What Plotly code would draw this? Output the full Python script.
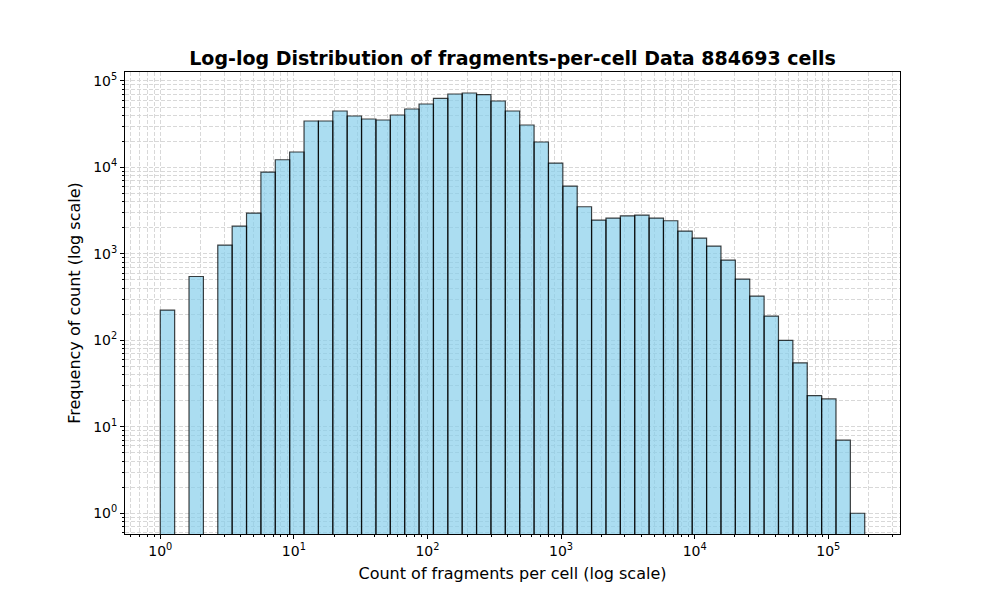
import numpy as np
import plotly.graph_objects as go

# Histogram of fragments per cell, 49 log-spaced bins from 1 to max count
n_cells = 884693
max_fragments = 187500
n_edges = 50
bin_counts = [
    224, 0, 548, 0, 1265, 2098, 2966, 8850, 12280, 15080,
    34440, 34440, 44970, 39350, 36330, 35360, 40400, 47400, 54200, 62900,
    70700, 72600, 69400, 58700, 44970, 30960, 19680, 11240, 6090, 3510,
    2462, 2596, 2760, 2812, 2596, 2417, 1836, 1524, 1231, 848,
    511, 325, 191, 100, 55, 23, 21, 7, 1,
]
x_tick_vals = [1, 10, 100, 1000, 10000, 100000]
x_tick_text = ["10<sup>%d</sup>" % i for i in range(6)]
y_tick_vals = [1, 10, 100, 1000, 10000, 100000]
y_tick_text = ["10<sup>%d</sup>" % i for i in range(6)]

bin_edges = np.logspace(0, np.log10(max_fragments), n_edges)

# every non-empty bin as a closed rectangle (bottom below the visible range)
xs, ys = [], []
for i, c in enumerate(bin_counts):
    if c <= 0:
        continue
    l, r = bin_edges[i], bin_edges[i + 1]
    xs += [l, l, r, r, l, None]
    ys += [0.01, c, c, 0.01, 0.01, None]

fig = go.Figure()
fig.add_trace(go.Scatter(
    x=xs, y=ys,
    mode="lines",
    fill="toself",
    fillcolor="rgba(135,206,235,0.7)",
    line=dict(color="rgba(0,0,0,0.75)", width=1.2),
    hoverinfo="skip",
    showlegend=False,
))

grid_col = "#d8d8d8"
axis_common = dict(
    type="log",
    showline=True, linecolor="black", linewidth=1, mirror=True,
    ticks="outside", ticklen=4, tickcolor="black",
    showgrid=True, gridcolor=grid_col, griddash="4px,2px", gridwidth=1,
    zeroline=False,
    tickfont=dict(family="DejaVu Sans", size=14, color="black"),
    minor=dict(dtick="D1", showgrid=True, gridcolor=grid_col, griddash="4px,2px",
               ticks="outside", ticklen=2, tickcolor="black"),
)

fig.update_xaxes(
    **axis_common,
    range=[-0.264, 5.537],
    tickvals=x_tick_vals, ticktext=x_tick_text,
    title=dict(text="Count of fragments per cell (log scale)",
               font=dict(family="DejaVu Sans", size=16, color="black"), standoff=10),
)
fig.update_yaxes(
    **axis_common,
    range=[-0.24, 5.104],
    tickvals=y_tick_vals, ticktext=y_tick_text,
    title=dict(text="Frequency of count (log scale)",
               font=dict(family="DejaVu Sans", size=16, color="black"), standoff=8),
)

fig.update_layout(
    width=1000, height=600,
    margin=dict(l=125, r=100, t=72, b=66),
    paper_bgcolor="white", plot_bgcolor="white",
    title=dict(
        text="<b>Log-log Distribution of fragments-per-cell Data %d cells</b>" % n_cells,
        font=dict(family="DejaVu Sans", size=19, color="black"),
        x=0.5, xanchor="center", xref="paper",
        y=0.903, yanchor="middle", yref="container",
    ),
)

# page body margin off so the figure sits at the window corner
fig.write_html("out.html", config={"displayModeBar": False},
               post_script="document.body.style.margin='0';")
